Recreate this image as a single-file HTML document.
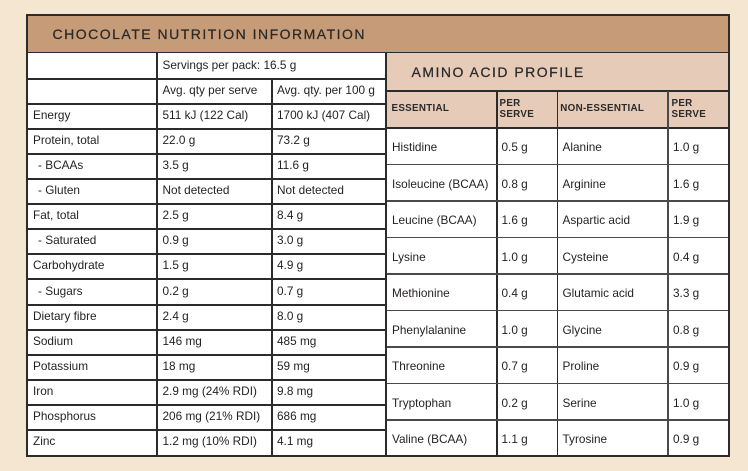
<!DOCTYPE html>
<html><head><meta charset="utf-8"><style>
*{margin:0;padding:0;box-sizing:border-box}
html,body{width:748px;height:471px;overflow:hidden;background:#f5e6d2}
body{position:relative;font-family:"Liberation Sans",sans-serif;color:#231f20}
.a{position:absolute}
.l{position:absolute;background:#2b2b2b}
.g{position:absolute;background:#4a4a4a}
.t{position:absolute;display:flex;align-items:center;white-space:nowrap;font-size:11.8px;padding-bottom:3px}
.r{position:absolute;display:flex;align-items:center;white-space:nowrap;font-size:11.8px;padding-top:2px}
.h{position:absolute;display:flex;align-items:center;white-space:nowrap;font-size:9.8px;font-weight:bold;letter-spacing:0.3px;line-height:10.6px;color:#2a2a2a}
.title{position:absolute;display:flex;align-items:center;white-space:nowrap;font-size:14px;letter-spacing:1.5px;color:#2a2a2a;-webkit-text-stroke:0.25px #2a2a2a}
</style></head><body>
<!-- fills -->
<div class="a" style="left:27px;top:15px;width:701px;height:37px;background:#c69b78"></div>
<div class="a" style="left:27px;top:53px;width:358px;height:402px;background:#fff"></div>
<div class="a" style="left:387px;top:53px;width:341px;height:75px;background:#e6cbb8"></div>
<div class="a" style="left:387px;top:128px;width:341px;height:327px;background:#fff"></div>

<!-- outer borders -->
<div class="l" style="left:26px;top:14px;width:704px;height:1.5px"></div>
<div class="l" style="left:26px;top:14px;width:2px;height:443px"></div>
<div class="l" style="left:727.7px;top:14px;width:2.3px;height:443px"></div>
<div class="l" style="left:26px;top:454.5px;width:704px;height:2.5px"></div>
<div class="l" style="left:26px;top:51.7px;width:704px;height:1.8px"></div>

<!-- left table lines -->
<div class="l" style="left:27px;top:78px;width:358px;height:2px"></div>
<div class="l" style="left:27px;top:103px;width:358px;height:2px"></div>
<div class="l" style="left:27px;top:128px;width:358px;height:2px"></div>
<div class="l" style="left:27px;top:153px;width:358px;height:2px"></div>
<div class="l" style="left:27px;top:178px;width:358px;height:2px"></div>
<div class="l" style="left:27px;top:203px;width:358px;height:2px"></div>
<div class="l" style="left:27px;top:228px;width:358px;height:2px"></div>
<div class="l" style="left:27px;top:253px;width:358px;height:2px"></div>
<div class="l" style="left:27px;top:278px;width:358px;height:2px"></div>
<div class="l" style="left:27px;top:304px;width:358px;height:2px"></div>
<div class="l" style="left:27px;top:329px;width:358px;height:2px"></div>
<div class="l" style="left:27px;top:354px;width:358px;height:2px"></div>
<div class="l" style="left:27px;top:379px;width:358px;height:2px"></div>
<div class="l" style="left:27px;top:404px;width:358px;height:2px"></div>
<div class="l" style="left:27px;top:429px;width:358px;height:2px"></div>
<div class="l" style="left:156px;top:53px;width:2px;height:402px"></div>
<div class="l" style="left:270.5px;top:79px;width:2px;height:376px"></div>
<div class="l" style="left:385px;top:53px;width:2px;height:402px"></div>

<!-- right table lines -->
<div class="l" style="left:386px;top:90px;width:342px;height:2px"></div>
<div class="l" style="left:386px;top:127px;width:342px;height:2px"></div>
<div class="l" style="left:496px;top:91px;width:1.8px;height:364px"></div>
<div class="l" style="left:556.5px;top:91px;width:1.8px;height:364px"></div>
<div class="g" style="left:667px;top:91px;width:1.8px;height:364px"></div>
<div class="g" style="left:387px;top:163.7px;width:341px;height:1.7px"></div>
<div class="g" style="left:387px;top:200.2px;width:341px;height:1.7px"></div>
<div class="g" style="left:387px;top:236.7px;width:341px;height:1.7px"></div>
<div class="g" style="left:387px;top:273.2px;width:341px;height:1.7px"></div>
<div class="g" style="left:387px;top:309.7px;width:341px;height:1.7px"></div>
<div class="g" style="left:387px;top:346.2px;width:341px;height:1.7px"></div>
<div class="g" style="left:387px;top:382.7px;width:341px;height:1.7px"></div>
<div class="g" style="left:387px;top:419.2px;width:341px;height:1.7px"></div>

<!-- titles -->
<div class="title" style="left:52.5px;top:15.5px;height:36.5px">CHOCOLATE NUTRITION INFORMATION</div>
<div class="title" style="left:411.5px;top:54px;height:36.5px">AMINO ACID PROFILE</div>

<!-- right header row -->
<div class="h" style="left:391.5px;top:92px;height:35px">ESSENTIAL</div>
<div class="h" style="left:499.5px;top:92px;height:35px">PER<br>SERVE</div>
<div class="h" style="left:560.3px;top:92px;height:35px">NON-ESSENTIAL</div>
<div class="h" style="left:671.5px;top:92px;height:35px">PER<br>SERVE</div>

<!-- left table text -->
<div class="t" style="left:162.5px;top:53px;height:26px">Servings per pack: 16.5 g</div>
<div class="t" style="left:162.5px;top:79px;height:25px">Avg. qty per serve</div>
<div class="t" style="left:277px;top:79px;height:25px">Avg. qty. per 100 g</div>

<div class="t" style="left:33px;top:104px;height:25px">Energy</div>
<div class="t" style="left:162.5px;top:104px;height:25px">511 kJ (122 Cal)</div>
<div class="t" style="left:277px;top:104px;height:25px">1700 kJ (407 Cal)</div>

<div class="t" style="left:33px;top:129px;height:25px">Protein, total</div>
<div class="t" style="left:162.5px;top:129px;height:25px">22.0 g</div>
<div class="t" style="left:277px;top:129px;height:25px">73.2 g</div>

<div class="t" style="left:38px;top:154px;height:25px">- BCAAs</div>
<div class="t" style="left:162.5px;top:154px;height:25px">3.5 g</div>
<div class="t" style="left:277px;top:154px;height:25px">11.6 g</div>

<div class="t" style="left:38px;top:179px;height:25px">- Gluten</div>
<div class="t" style="left:162.5px;top:179px;height:25px">Not detected</div>
<div class="t" style="left:277px;top:179px;height:25px">Not detected</div>

<div class="t" style="left:33px;top:204px;height:25px">Fat, total</div>
<div class="t" style="left:162.5px;top:204px;height:25px">2.5 g</div>
<div class="t" style="left:277px;top:204px;height:25px">8.4 g</div>

<div class="t" style="left:38px;top:229px;height:25px">- Saturated</div>
<div class="t" style="left:162.5px;top:229px;height:25px">0.9 g</div>
<div class="t" style="left:277px;top:229px;height:25px">3.0 g</div>

<div class="t" style="left:33px;top:254px;height:25px">Carbohydrate</div>
<div class="t" style="left:162.5px;top:254px;height:25px">1.5 g</div>
<div class="t" style="left:277px;top:254px;height:25px">4.9 g</div>

<div class="t" style="left:38px;top:279px;height:26px">- Sugars</div>
<div class="t" style="left:162.5px;top:279px;height:26px">0.2 g</div>
<div class="t" style="left:277px;top:279px;height:26px">0.7 g</div>

<div class="t" style="left:33px;top:305px;height:25px">Dietary fibre</div>
<div class="t" style="left:162.5px;top:305px;height:25px">2.4 g</div>
<div class="t" style="left:277px;top:305px;height:25px">8.0 g</div>

<div class="t" style="left:33px;top:330px;height:25px">Sodium</div>
<div class="t" style="left:162.5px;top:330px;height:25px">146 mg</div>
<div class="t" style="left:277px;top:330px;height:25px">485 mg</div>

<div class="t" style="left:33px;top:355px;height:25px">Potassium</div>
<div class="t" style="left:162.5px;top:355px;height:25px">18 mg</div>
<div class="t" style="left:277px;top:355px;height:25px">59 mg</div>

<div class="t" style="left:33px;top:380px;height:25px">Iron</div>
<div class="t" style="left:162.5px;top:380px;height:25px">2.9 mg (24% RDI)</div>
<div class="t" style="left:277px;top:380px;height:25px">9.8 mg</div>

<div class="t" style="left:33px;top:405px;height:25px">Phosphorus</div>
<div class="t" style="left:162.5px;top:405px;height:25px">206 mg (21% RDI)</div>
<div class="t" style="left:277px;top:405px;height:25px">686 mg</div>

<div class="t" style="left:33px;top:430px;height:25px">Zinc</div>
<div class="t" style="left:162.5px;top:430px;height:25px">1.2 mg (10% RDI)</div>
<div class="t" style="left:277px;top:430px;height:25px">4.1 mg</div>

<!-- right table text -->
<div class="r" style="left:392px;top:128px;height:36.5px">Histidine</div>
<div class="r" style="left:501.5px;top:128px;height:36.5px">0.5 g</div>
<div class="r" style="left:562.5px;top:128px;height:36.5px">Alanine</div>
<div class="r" style="left:673px;top:128px;height:36.5px">1.0 g</div>

<div class="r" style="left:392px;top:164.5px;height:36.5px">Isoleucine (BCAA)</div>
<div class="r" style="left:501.5px;top:164.5px;height:36.5px">0.8 g</div>
<div class="r" style="left:562.5px;top:164.5px;height:36.5px">Arginine</div>
<div class="r" style="left:673px;top:164.5px;height:36.5px">1.6 g</div>

<div class="r" style="left:392px;top:201px;height:36.5px">Leucine (BCAA)</div>
<div class="r" style="left:501.5px;top:201px;height:36.5px">1.6 g</div>
<div class="r" style="left:562.5px;top:201px;height:36.5px">Aspartic acid</div>
<div class="r" style="left:673px;top:201px;height:36.5px">1.9 g</div>

<div class="r" style="left:392px;top:237.5px;height:36.5px">Lysine</div>
<div class="r" style="left:501.5px;top:237.5px;height:36.5px">1.0 g</div>
<div class="r" style="left:562.5px;top:237.5px;height:36.5px">Cysteine</div>
<div class="r" style="left:673px;top:237.5px;height:36.5px">0.4 g</div>

<div class="r" style="left:392px;top:274px;height:36.5px">Methionine</div>
<div class="r" style="left:501.5px;top:274px;height:36.5px">0.4 g</div>
<div class="r" style="left:562.5px;top:274px;height:36.5px">Glutamic acid</div>
<div class="r" style="left:673px;top:274px;height:36.5px">3.3 g</div>

<div class="r" style="left:392px;top:310.5px;height:36.5px">Phenylalanine</div>
<div class="r" style="left:501.5px;top:310.5px;height:36.5px">1.0 g</div>
<div class="r" style="left:562.5px;top:310.5px;height:36.5px">Glycine</div>
<div class="r" style="left:673px;top:310.5px;height:36.5px">0.8 g</div>

<div class="r" style="left:392px;top:347px;height:36.5px">Threonine</div>
<div class="r" style="left:501.5px;top:347px;height:36.5px">0.7 g</div>
<div class="r" style="left:562.5px;top:347px;height:36.5px">Proline</div>
<div class="r" style="left:673px;top:347px;height:36.5px">0.9 g</div>

<div class="r" style="left:392px;top:383.5px;height:36.5px">Tryptophan</div>
<div class="r" style="left:501.5px;top:383.5px;height:36.5px">0.2 g</div>
<div class="r" style="left:562.5px;top:383.5px;height:36.5px">Serine</div>
<div class="r" style="left:673px;top:383.5px;height:36.5px">1.0 g</div>

<div class="r" style="left:392px;top:420px;height:35px">Valine (BCAA)</div>
<div class="r" style="left:501.5px;top:420px;height:35px">1.1 g</div>
<div class="r" style="left:562.5px;top:420px;height:35px">Tyrosine</div>
<div class="r" style="left:673px;top:420px;height:35px">0.9 g</div>
</body></html>
